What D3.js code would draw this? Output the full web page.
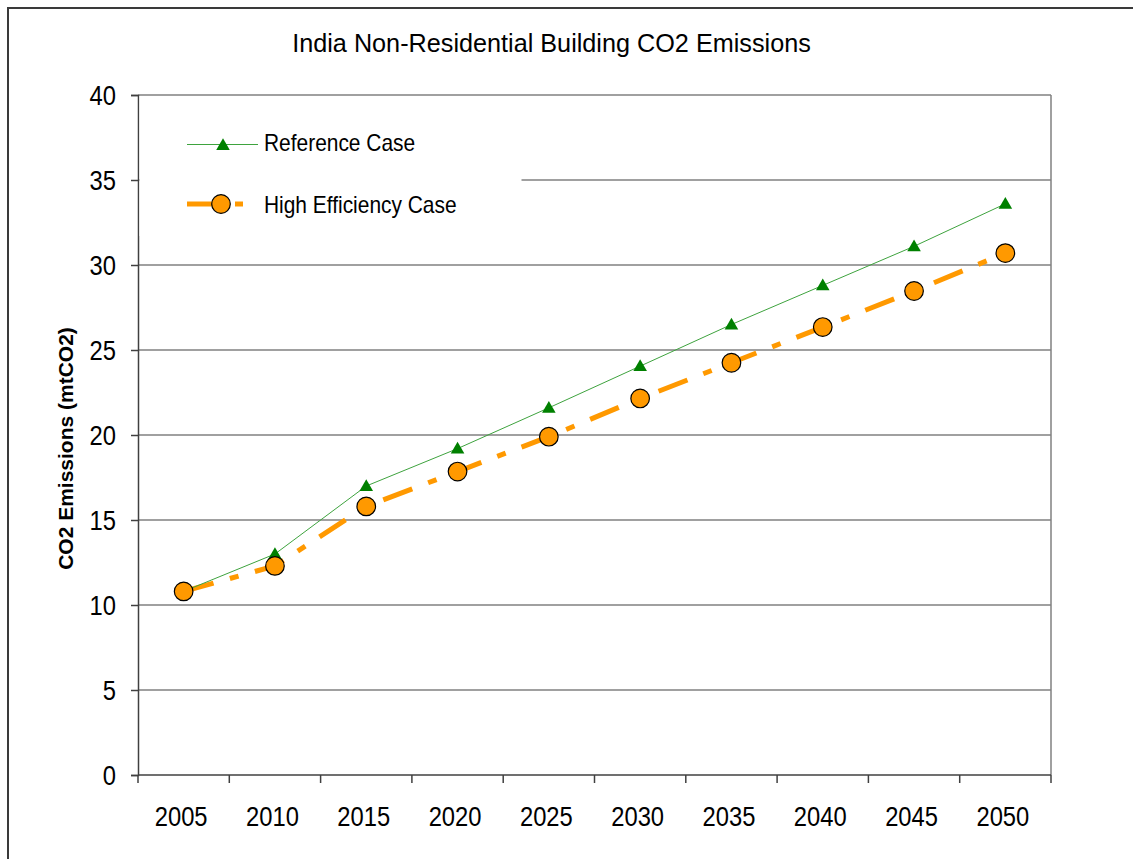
<!DOCTYPE html>
<html>
<head>
<meta charset="utf-8">
<script src="https://cdn.jsdelivr.net/npm/d3@7"></script>
<style>
  html, body { margin: 0; padding: 0; background: #fff; }
  svg { display: block; }
  text { font-family: "Liberation Sans", Arial, sans-serif; fill: #000; }
</style>
</head>
<body>
<svg id="chart" width="1133" height="859"></svg>
<script>
const years = ["2005", "2010", "2015", "2020", "2025", "2030", "2035", "2040", "2045", "2050"];
const referenceCase = [10.8, 13.0, 17.0, 19.2, 21.6, 24.05, 26.5, 28.8, 31.1, 33.6];
const highEfficiencyCase = [10.8, 12.3, 15.8, 17.85, 19.9, 22.15, 24.25, 26.35, 28.47, 30.7];
const yTicks = [0, 5, 10, 15, 20, 25, 30, 35, 40];
const seriesNames = ["Reference Case", "High Efficiency Case"];
const titleText = "India Non-Residential Building CO2 Emissions";
const yAxisTitle = "CO2 Emissions (mtCO2)";

const svg = d3.select("#chart");
const plot = { left: 138, right: 1051, top: 95, bottom: 775 };

// outer chart border
svg.append("rect")
  .attr("x", 8).attr("y", 8)
  .attr("width", 1300).attr("height", 1000)
  .attr("fill", "#fff").attr("stroke", "#3a3a3a").attr("stroke-width", 2);

const x = d3.scaleBand().domain(years).range([plot.left, plot.right]).paddingInner(0).paddingOuter(0);
const y = d3.scaleLinear().domain([0, 40]).range([plot.bottom, plot.top]);

// gridlines
svg.append("g").selectAll("line").data(yTicks.filter(d => d > 0)).join("line")
  .attr("x1", plot.left).attr("x2", plot.right)
  .attr("y1", d => y(d)).attr("y2", d => y(d))
  .attr("stroke", "#808080").attr("stroke-width", 1.5);

// right border of plot
svg.append("line")
  .attr("x1", plot.right).attr("x2", plot.right)
  .attr("y1", plot.top).attr("y2", plot.bottom)
  .attr("stroke", "#808080").attr("stroke-width", 1.5);

// Y axis
const yAxis = svg.append("g")
  .attr("transform", `translate(${plot.left},0)`)
  .call(d3.axisLeft(y).tickValues(yTicks).tickSize(7).tickPadding(15));
yAxis.select(".domain").attr("stroke", "#404040").attr("stroke-width", 1.5);
yAxis.selectAll(".tick line").attr("stroke", "#404040").attr("stroke-width", 1.5);
yAxis.selectAll(".tick text")
  .attr("font-size", 27)
  .attr("x", -22 / 0.88)
  .attr("dy", "0.36em")
  .attr("transform", "scale(0.88,1)")
  .style("font-family", '"Liberation Sans", Arial, sans-serif');

// X axis (category labels centered, ticks on boundaries)
const xAxis = svg.append("g")
  .attr("transform", `translate(0,${plot.bottom})`)
  .call(d3.axisBottom(x).tickSize(0).tickPadding(0));
xAxis.select(".domain").remove();
xAxis.append("line")
  .attr("x1", plot.left).attr("x2", plot.right)
  .attr("y1", 0).attr("y2", 0)
  .attr("stroke", "#404040").attr("stroke-width", 1.5);
const boundaries = years.map(d => x(d)).concat([x.range()[1]]);
xAxis.selectAll(".bound").data(boundaries).join("line")
  .attr("class", "bound")
  .attr("x1", d => d).attr("x2", d => d)
  .attr("y1", 0).attr("y2", 8)
  .attr("stroke", "#404040").attr("stroke-width", 1.5);
xAxis.selectAll(".tick text")
  .attr("font-size", 27)
  .attr("x", -2.5 / 0.88)
  .attr("y", 51).attr("dy", 0)
  .attr("transform", "scale(0.88,1)")
  .style("font-family", '"Liberation Sans", Arial, sans-serif');

// Legend background (covers gridline)
svg.append("rect")
  .attr("x", 139.5).attr("y", 96)
  .attr("width", 382).attr("height", 140)
  .attr("fill", "#fff");

const cx = d => x(d) + x.bandwidth() / 2;

// High efficiency line
const dashPattern = "31,17,9,17";
svg.append("path")
  .datum(highEfficiencyCase)
  .attr("fill", "none")
  .attr("stroke", "#FF9900")
  .attr("stroke-width", 5)
  .attr("stroke-dasharray", dashPattern)
  .attr("d", d3.line().x((d, i) => cx(years[i])).y(d => y(d)));

// Reference line
svg.append("path")
  .datum(referenceCase)
  .attr("fill", "none")
  .attr("stroke", "#3ea33e")
  .attr("stroke-width", 1)
  .attr("d", d3.line().x((d, i) => cx(years[i])).y(d => y(d)));

const tri = d3.symbol().type(d3.symbolTriangle).size(80);

// Reference markers
svg.append("g").selectAll("path").data(referenceCase).join("path")
  .attr("d", tri)
  .attr("transform", (d, i) => `translate(${cx(years[i])},${y(d) + 1})`)
  .attr("fill", "#008000");

// High efficiency markers
svg.append("g").selectAll("circle").data(highEfficiencyCase).join("circle")
  .attr("cx", (d, i) => cx(years[i]))
  .attr("cy", d => y(d))
  .attr("r", 9.3)
  .attr("fill", "#FF9900")
  .attr("stroke", "#000")
  .attr("stroke-width", 1.2);

// Legend
const leg = svg.append("g");
leg.append("line")
  .attr("x1", 187).attr("x2", 258).attr("y1", 144.5).attr("y2", 144.5)
  .attr("stroke", "#3ea33e").attr("stroke-width", 1);
leg.append("path").attr("d", tri).attr("transform", "translate(223,146)").attr("fill", "#008000");
leg.append("text")
  .attr("x", 264 / 0.91).attr("y", 151.5)
  .attr("font-size", 23)
  .attr("transform", "scale(0.91,1)")
  .text(seriesNames[0]);

leg.append("line")
  .attr("x1", 187).attr("x2", 243).attr("y1", 204).attr("y2", 204)
  .attr("stroke", "#FF9900").attr("stroke-width", 5)
  .attr("stroke-dasharray", dashPattern);
leg.append("circle")
  .attr("cx", 221).attr("cy", 204).attr("r", 9.3)
  .attr("fill", "#FF9900").attr("stroke", "#000").attr("stroke-width", 1.2);
leg.append("text")
  .attr("x", 264 / 0.91).attr("y", 213)
  .attr("font-size", 23)
  .attr("transform", "scale(0.91,1)")
  .text(seriesNames[1]);

// Title
svg.append("text")
  .attr("x", 551.5 / 0.97).attr("y", 52)
  .attr("font-size", 26)
  .attr("text-anchor", "middle")
  .attr("transform", "scale(0.97,1)")
  .text(titleText);

// Y axis title
svg.append("text")
  .attr("transform", "translate(73,448.5) rotate(-90)")
  .attr("text-anchor", "middle")
  .attr("font-size", 21)
  .attr("font-weight", "bold")
  .text(yAxisTitle);
</script>
</body>
</html>
